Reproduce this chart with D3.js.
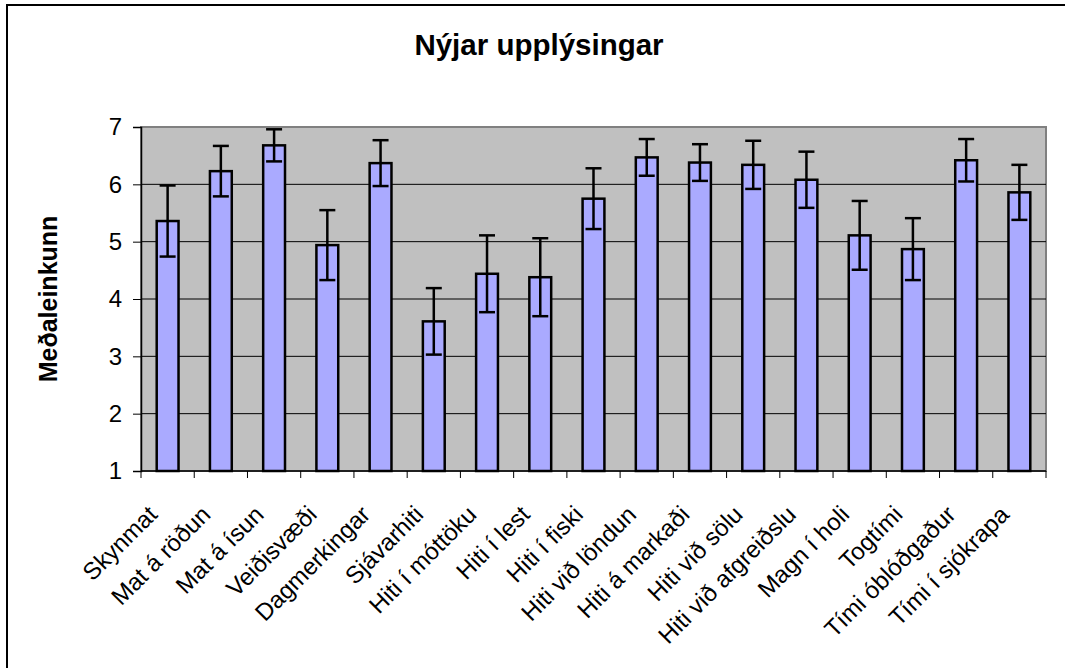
<!DOCTYPE html>
<html>
<head>
<meta charset="utf-8">
<script src="https://cdn.jsdelivr.net/npm/d3@7"></script>
<style>
  body { margin: 0; background: #fff; }
  text { font-family: "Liberation Sans", Arial, sans-serif; fill: #000; }
</style>
</head>
<body>
<div id="chart"></div>
<script>
// data
var categories = ["Skynmat", "Mat á röðun", "Mat á ísun", "Veiðisvæði", "Dagmerkingar",
  "Sjávarhiti", "Hiti í móttöku", "Hiti í lest", "Hiti í fiski", "Hiti við löndun",
  "Hiti á markaði", "Hiti við sölu", "Hiti við afgreiðslu", "Magn í holi", "Togtími",
  "Tími óblóðgaður", "Tími í sjókrapa"];
var means = [5.36, 6.23, 6.68, 4.94, 6.37, 3.61, 4.44, 4.38, 5.75, 6.47, 6.38, 6.34, 6.08, 5.11, 4.87, 6.42, 5.86];
var errs = [0.62, 0.44, 0.28, 0.61, 0.40, 0.58, 0.67, 0.68, 0.53, 0.32, 0.32, 0.42, 0.49, 0.60, 0.54, 0.37, 0.48];
var yTicks = [1, 2, 3, 4, 5, 6, 7];

var svgWidth = 1065;
var svgHeight = 668;
var margin = { top: 127, right: 19, bottom: 197, left: 141 };
var width = svgWidth - margin.left - margin.right;
var height = svgHeight - margin.top - margin.bottom;

var svg = d3.select("#chart")
  .append("svg")
  .attr("width", svgWidth)
  .attr("height", svgHeight);

// outer chart frame
svg.append("rect")
  .attr("x", 7).attr("y", 5)
  .attr("width", 1080).attr("height", 700)
  .attr("fill", "none")
  .attr("stroke", "#000")
  .attr("stroke-width", 2);

svg.append("text")
  .attr("x", 539)
  .attr("y", 55)
  .attr("text-anchor", "middle")
  .style("font-size", "29.5px")
  .style("font-weight", "bold")
  .text("Nýjar upplýsingar");

var chartGroup = svg.append("g")
  .attr("transform", `translate(${margin.left}, ${margin.top})`);

var x = d3.scaleBand()
  .domain(categories)
  .range([0, width]);

var y = d3.scaleLinear()
  .domain([1, 7])
  .range([height, 0]);

// plot background
chartGroup.append("rect")
  .attr("width", width)
  .attr("height", height)
  .attr("fill", "#c0c0c0")
  .attr("stroke", "#808080")
  .attr("stroke-width", 2);

// gridlines
chartGroup.selectAll(".grid")
  .data(yTicks.slice(1, -1))
  .enter()
  .append("line")
  .attr("x1", 0).attr("x2", width)
  .attr("y1", d => y(d)).attr("y2", d => y(d))
  .attr("stroke", "#000")
  .attr("stroke-width", 1);

var barW = x.bandwidth() * 0.41;

chartGroup.selectAll(".bar")
  .data(means)
  .enter()
  .append("rect")
  .attr("x", (d, i) => x(categories[i]) + x.bandwidth() / 2 - barW / 2)
  .attr("y", d => y(d))
  .attr("width", barW)
  .attr("height", d => height - y(d))
  .attr("fill", "#aaaaff")
  .attr("stroke", "#000")
  .attr("stroke-width", 2.5);

// error bars
var capW = 16;
var eb = chartGroup.selectAll(".err")
  .data(means)
  .enter()
  .append("g")
  .attr("transform", (d, i) => `translate(${x(categories[i]) + x.bandwidth() / 2}, 0)`);
eb.append("line")
  .attr("y1", (d, i) => y(d + errs[i]))
  .attr("y2", (d, i) => y(d - errs[i]))
  .attr("stroke", "#000").attr("stroke-width", 2.5);
eb.append("line")
  .attr("x1", -capW / 2).attr("x2", capW / 2)
  .attr("y1", (d, i) => y(d + errs[i])).attr("y2", (d, i) => y(d + errs[i]))
  .attr("stroke", "#000").attr("stroke-width", 2.5);
eb.append("line")
  .attr("x1", -capW / 2).attr("x2", capW / 2)
  .attr("y1", (d, i) => y(d - errs[i])).attr("y2", (d, i) => y(d - errs[i]))
  .attr("stroke", "#000").attr("stroke-width", 2.5);

// y axis
var leftAxis = d3.axisLeft(y).tickValues(yTicks).tickSize(8).tickPadding(11).tickFormat(d3.format("d"));
var ya = chartGroup.append("g").call(leftAxis);
ya.select(".domain").attr("stroke", "#000").attr("stroke-width", 1.5);
ya.selectAll(".tick line").attr("stroke", "#000");
ya.selectAll(".tick text").style("font-size", "24px").attr("font-family", null);

// x axis: ticks on category boundaries
var xa = chartGroup.append("g").attr("transform", `translate(0, ${height})`);
xa.append("line").attr("x1", 0).attr("x2", width)
  .attr("stroke", "#000").attr("stroke-width", 1.5);
xa.selectAll(".xt")
  .data(d3.range(categories.length + 1))
  .enter()
  .append("line")
  .attr("x1", i => i * x.step()).attr("x2", i => i * x.step())
  .attr("y1", 0).attr("y2", 7)
  .attr("stroke", "#000");
xa.selectAll(".xl")
  .data(categories)
  .enter()
  .append("text")
  .attr("text-anchor", "end")
  .attr("transform", d => `translate(${x(d) + x.bandwidth() / 2 - 9}, 45) rotate(-45)`)
  .style("font-size", "24px")
  .text(d => d);

// y axis title
svg.append("text")
  .attr("transform", "translate(57, 299) rotate(-90)")
  .attr("text-anchor", "middle")
  .style("font-size", "25px")
  .style("font-weight", "bold")
  .text("Meðaleinkunn");
</script>
</body>
</html>
